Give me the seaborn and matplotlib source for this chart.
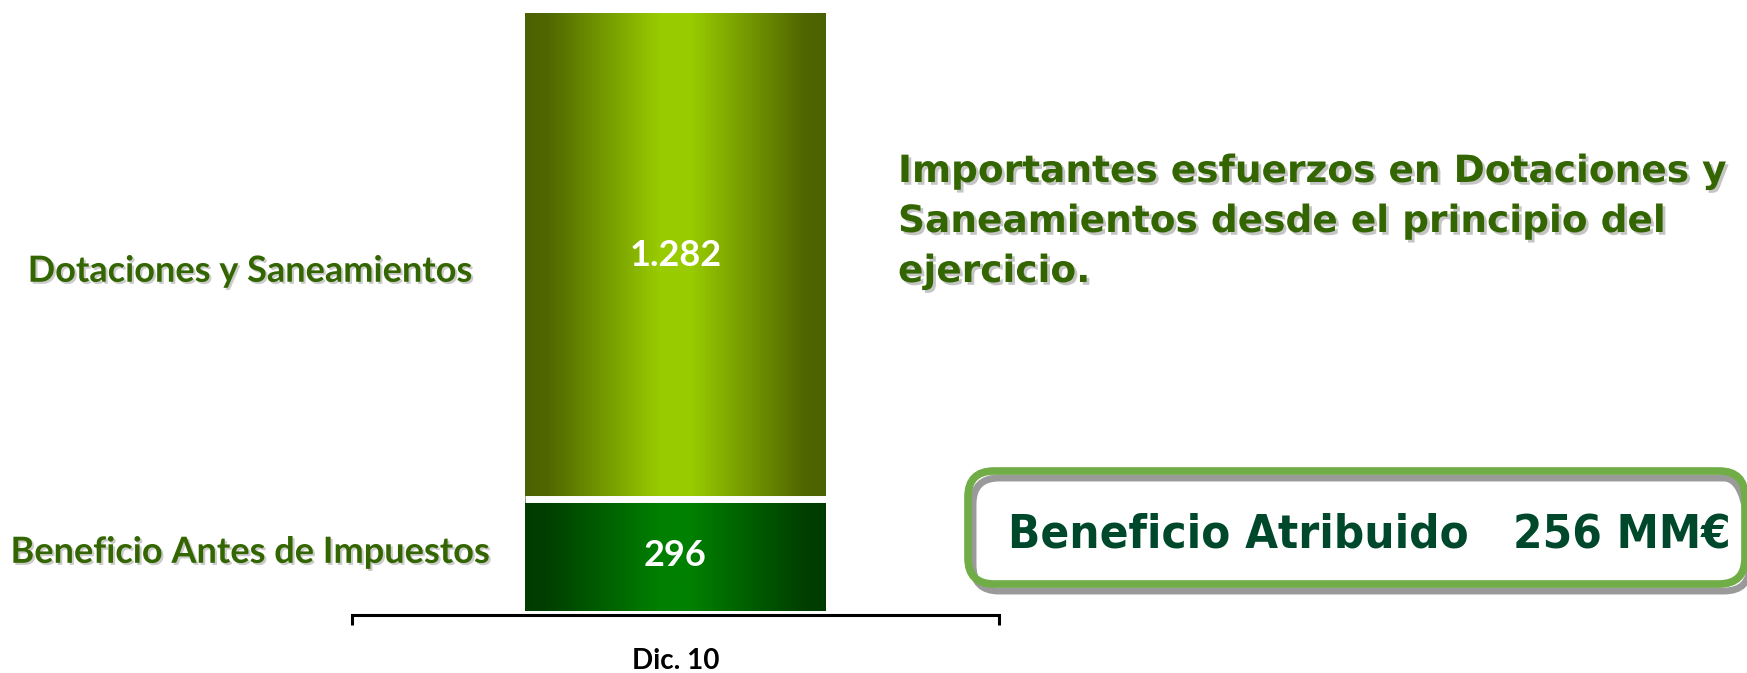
import numpy as np
import pandas as pd
import matplotlib
matplotlib.use("Agg")
import matplotlib.pyplot as plt
import matplotlib.patheffects as pe
import matplotlib.transforms as mtransforms
from matplotlib.colors import LinearSegmentedColormap
from matplotlib.patches import FancyBboxPatch
import seaborn as sns

# Data
periods = ["Dic. 10"]
segments = ["Beneficio Antes de Impuestos", "Dotaciones y Saneamientos"]
values = [296, 1282]
headline_lines = [
    "Importantes esfuerzos en Dotaciones y",
    "Saneamientos desde el principio del",
    "ejercicio.",
]
box_label = "Beneficio Atribuido"
box_value = 256
box_unit = "MM€"

W, H = 1747, 673
LABEL_GREEN = "#336600"
BOX_GREEN = "#70ad47"
BOX_TEXT = "#00482b"

sns.set_theme(style="white")
plt.rcParams["font.family"] = ["Lato", "DejaVu Sans"]

tops = np.cumsum(values)
df = pd.DataFrame({
    "period": periods * len(segments),
    "segment": segments,
    "value": values,
    "top": tops,
})
df["mid"] = df["top"] - df["value"] / 2

fig = plt.figure(figsize=(W / 100, H / 100), dpi=100)
ax = fig.add_axes([352 / W, 1 - 615 / H, 647 / W, 602 / H])

# total bar first, base segment drawn over it -> stacked look
draw_order = segments[::-1]
sns.barplot(data=df, x="period", y="top", hue="segment", hue_order=draw_order,
            dodge=False, width=0.465, errorbar=None, legend=False,
            palette={"Dotaciones y Saneamientos": "#4b6200",
                     "Beneficio Antes de Impuestos": "#003c00"},
            linewidth=0, ax=ax)

gradients = {
    "Dotaciones y Saneamientos": ["#4b6200", "#4f6600", "#99cc00", "#99cc00", "#4f6600", "#4b6200"],
    "Beneficio Antes de Impuestos": ["#003c00", "#003f00", "#008000", "#008000", "#003f00", "#003c00"],
}
stops = [0, 0.07, 0.45, 0.55, 0.93, 1]
grad = np.linspace(0, 1, 300)[None, :]

for i, (patch, seg) in enumerate(zip(ax.patches, draw_order)):
    cmap = LinearSegmentedColormap.from_list(seg, list(zip(stops, gradients[seg])))
    x0, y0 = patch.get_x(), patch.get_y()
    w, h = patch.get_width(), patch.get_height()
    im = ax.imshow(grad, cmap=cmap, aspect="auto", interpolation="bicubic",
                   extent=[x0, x0 + w, y0, y0 + h], zorder=2 + i)
    im.set_clip_path(patch)

# white separator between the stacked segments
bar = ax.patches[0]
ax.hlines(values[0], bar.get_x(), bar.get_x() + bar.get_width(), color="white", lw=5, zorder=5)

# value labels inside the bars
for _, row in df.iterrows():
    ax.text(0, row["mid"], f"{row['value']:,}".replace(",", "."), ha="center", va="center",
            color="white", fontsize=26, fontweight="bold", zorder=6)

ax.set_xlim(-0.5, 0.5)
ax.set_ylim(-10, tops[-1])
ax.set_aspect("auto")
ax.set_xlabel("")
ax.set_ylabel("")
ax.set_yticks([])
for side in ["left", "top", "right"]:
    ax.spines[side].set_visible(False)
ax.spines["bottom"].set_color("black")
ax.spines["bottom"].set_linewidth(2.2)
ax.set_xticks([-0.5, 0.5], minor=True)
ax.tick_params(axis="x", which="minor", bottom=True, length=7, width=2.2, color="black", direction="out")
ax.tick_params(axis="x", which="major", length=0, pad=24, labelsize=20, labelcolor="black")
for lbl in ax.get_xticklabels():
    lbl.set_fontweight("bold")

# segment names on the left
shadow_small = [pe.withSimplePatchShadow(offset=(1.5, -1.5), shadow_rgbFace="#8c8c8c", alpha=0.45)]
blend = mtransforms.blended_transform_factory(fig.transFigure, ax.transData)
nudge = {"Dotaciones y Saneamientos": -11, "Beneficio Antes de Impuestos": 2}
for _, row in df.iterrows():
    tr = mtransforms.offset_copy(blend, fig=fig, x=0, y=nudge[row["segment"]], units="points")
    ax.text(250 / W, row["mid"], row["segment"], transform=tr, ha="center", va="center",
            color=LABEL_GREEN, fontsize=26, fontweight="bold", path_effects=shadow_small)

# headline on the right
shadow_big = [pe.withSimplePatchShadow(offset=(2, -2), shadow_rgbFace="#8c8c8c", alpha=0.5)]
for k, line in enumerate(headline_lines):
    fig.text(898 / W, 1 - (182 + 50 * k) / H, line, ha="left", va="baseline",
             family="DejaVu Sans", fontsize=27, fontweight="bold", color=LABEL_GREEN,
             path_effects=shadow_big)

# rounded box with attributed profit
px = mtransforms.IdentityTransform()
bx0, by0, bx1, by1 = 968, H - 584, 1745, H - 471
style = "round,pad=0,rounding_size=26"
fig.add_artist(FancyBboxPatch((bx0, by0), bx1 - bx0, by1 - by0, boxstyle=style,
                              transform=px, facecolor="white", edgecolor="none", zorder=1))
fig.add_artist(FancyBboxPatch((bx0 + 5, by0 - 7), bx1 - bx0, by1 - by0, boxstyle=style,
                              transform=px, facecolor="none", edgecolor="#9a9a9a", lw=5, zorder=2))
fig.add_artist(FancyBboxPatch((bx0, by0), bx1 - bx0, by1 - by0, boxstyle=style,
                              transform=px, facecolor="none", edgecolor=BOX_GREEN, lw=5.5, zorder=3))
fig.text(1008 / W, 1 - 548 / H, f"{box_label}   {box_value} {box_unit}", ha="left", va="baseline",
         family="DejaVu Sans", fontstretch="condensed", fontsize=34, fontweight="bold",
         color=BOX_TEXT, zorder=4)

fig.savefig("out.png", dpi=100, facecolor="white")
